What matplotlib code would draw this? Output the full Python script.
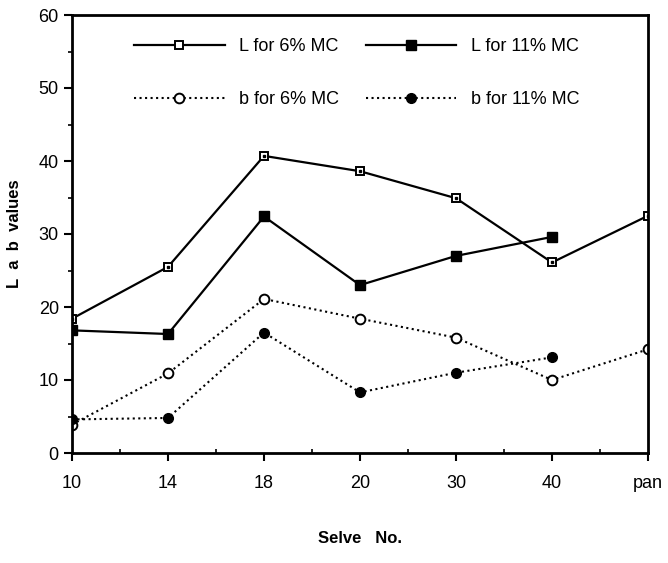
import matplotlib.pyplot as plt
from matplotlib.ticker import MultipleLocator

plt.rcParams['font.family'] = ['Liberation Sans', 'DejaVu Sans']

sieves = ["10", "14", "18", "20", "30", "40", "pan"]
L_6 = [18.4, 25.5, 40.7, 38.6, 34.9, 26.1, 32.5]
L_11 = [16.8, 16.3, 32.4, 23.0, 27.0, 29.6]
b_6 = [3.9, 10.9, 21.1, 18.4, 15.8, 10.0, 14.2]
b_11 = [4.6, 4.8, 16.5, 8.3, 11.0, 13.1]

fig = plt.figure(figsize=(6.68, 5.63), dpi=100)
ax = fig.add_axes([72 / 668, 1 - 453 / 563, (648 - 72) / 668, (453 - 15) / 563])

x6 = list(range(len(L_6)))
x11 = list(range(len(L_11)))

h1, = ax.plot(x6, L_6, '-', color='black', lw=1.6, marker='s', ms=6, mfc='white',
              mec='black', mew=1.4, label="L for 6% MC")
h2, = ax.plot(x11, L_11, '-', color='black', lw=1.6, marker='s', ms=7, mfc='black',
              mec='black', label="L for 11% MC")
h3, = ax.plot(x6, b_6, ':', color='black', lw=1.5, marker='o', ms=7, mfc='white',
              mec='black', mew=1.4, label="b for 6% MC")
h4, = ax.plot(x11, b_11, ':', color='black', lw=1.5, marker='o', ms=7, mfc='black',
              mec='black', label="b for 11% MC")
# little dot inside the open squares
ax.plot(x6, L_6, 's', color='black', ms=1.5, zorder=5)

ax.set_xlim(0, 6)
ax.set_ylim(0, 60)
ax.set_xticks(x6)
ax.set_xticklabels(sieves, fontsize=13)
ax.xaxis.set_minor_locator(MultipleLocator(0.5))
ax.yaxis.set_major_locator(MultipleLocator(10))
ax.yaxis.set_minor_locator(MultipleLocator(5))
ax.tick_params(axis='y', which='major', labelsize=13, length=6, width=1.5, direction='out')
ax.tick_params(axis='y', which='minor', length=3, width=1.2, direction='out')
ax.tick_params(axis='x', which='major', length=6, width=1.5, direction='out', pad=10)
ax.tick_params(axis='x', which='minor', length=3, width=1.2, direction='in')
for s in ax.spines.values():
    s.set_linewidth(2)

ax.set_xlabel("Selve   No.", fontsize=12, fontweight='bold', labelpad=28)
ax.set_ylabel("L  a  b  values", fontsize=12, fontweight='bold', labelpad=12)

ax.legend([h1, h3, h2, h4], [h.get_label() for h in [h1, h3, h2, h4]],
          loc='upper left', ncol=2, frameon=False, fontsize=13,
          bbox_to_anchor=(0.08, 0.985), handlelength=5.0, columnspacing=1.5,
          labelspacing=2.0, handletextpad=0.8)

fig.savefig("out.png", dpi=100)
